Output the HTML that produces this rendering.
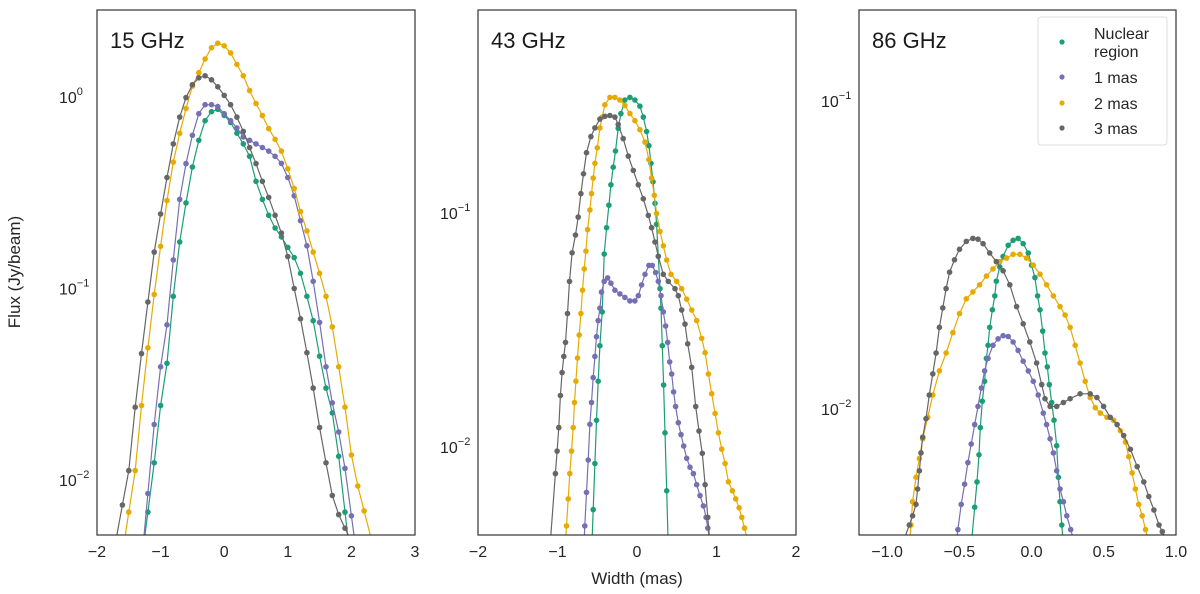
<!DOCTYPE html>
<html><head><meta charset="utf-8"><style>
body{margin:0;background:#fff}
svg{display:block;font-family:"Liberation Sans","DejaVu Sans",sans-serif}
</style></head><body>
<svg id="fig" width="1200" height="594" viewBox="0 0 1200 594" xmlns="http://www.w3.org/2000/svg">
<defs>
<clipPath id="c1"><rect x="97" y="10" width="318" height="525"/></clipPath>
<clipPath id="c2"><rect x="478" y="10" width="318" height="525"/></clipPath>
<clipPath id="c3"><rect x="859" y="10" width="317" height="525"/></clipPath>
</defs>
<text x="20" y="272" font-size="17" fill="#262626" text-anchor="middle" transform="rotate(-90 20 272)">Flux (Jy/beam)</text>
<text x="637" y="584" font-size="17" fill="#262626" text-anchor="middle">Width (mas)</text>
</svg>
<script>
// ---- Panel 1 (15 GHz) ----
const p1GreenX=[-1.2,-1.1,-1.0,-0.9,-0.8,-0.7,-0.6,-0.5,-0.4,-0.3,-0.2,-0.1,0.0,0.1,0.2,0.3,0.4,0.5,0.6,0.7,0.8,0.9,1.0,1.1,1.2,1.3,1.4,1.5,1.6,1.7,1.8,1.9];
const p1GreenY=[6.8e-3,0.0123,0.0245,0.0407,0.091,0.175,0.28,0.431,0.594,0.752,0.838,0.863,0.802,0.736,0.647,0.569,0.49,0.363,0.292,0.241,0.207,0.186,0.164,0.145,0.12,0.091,0.0679,0.0443,0.0302,0.0224,0.0133,6.8e-3];
const p1PurpleX=[-1.2,-1.1,-1.0,-0.9,-0.8,-0.7,-0.6,-0.5,-0.4,-0.3,-0.2,-0.1,0.0,0.1,0.2,0.3,0.4,0.5,0.6,0.7,0.8,0.9,1.0,1.1,1.2,1.3,1.4,1.5,1.6,1.7,1.8,1.9,2.0];
const p1PurpleY=[8.5e-3,0.0195,0.039,0.0646,0.141,0.292,0.449,0.631,0.818,0.912,0.912,0.891,0.818,0.752,0.69,0.619,0.594,0.569,0.545,0.522,0.49,0.45,0.38,0.305,0.226,0.167,0.109,0.0665,0.039,0.0253,0.0178,0.0115,6.5e-3];
const p1OrangeX=[-1.5,-1.4,-1.3,-1.2,-1.1,-1.0,-0.9,-0.8,-0.7,-0.6,-0.5,-0.4,-0.3,-0.2,-0.1,0.0,0.1,0.2,0.3,0.4,0.5,0.6,0.7,0.8,0.9,1.0,1.1,1.2,1.3,1.4,1.5,1.6,1.7,1.8,1.9,2.0,2.1,2.2];
const p1OrangeY=[6.8e-3,0.0112,0.0245,0.049,0.093,0.166,0.288,0.457,0.646,0.871,1.14,1.34,1.58,1.81,1.91,1.85,1.70,1.48,1.29,1.08,0.925,0.80,0.684,0.601,0.522,0.422,0.333,0.252,0.20,0.155,0.120,0.091,0.063,0.039,0.024,0.0135,9.3e-3,6.9e-3];
const p1GrayX=[-1.6,-1.5,-1.4,-1.3,-1.2,-1.1,-1.0,-0.9,-0.8,-0.7,-0.6,-0.5,-0.4,-0.3,-0.2,-0.1,0.0,0.1,0.2,0.3,0.4,0.5,0.6,0.7,0.8,0.9,1.0,1.1,1.2,1.3,1.4,1.5,1.6,1.7,1.8,1.9];
const p1GrayY=[7.4e-3,0.0112,0.024,0.0457,0.085,0.155,0.245,0.38,0.569,0.785,0.993,1.16,1.26,1.29,1.23,1.13,1.02,0.912,0.785,0.661,0.545,0.449,0.363,0.299,0.241,0.195,0.147,0.10,0.0695,0.0462,0.0302,0.0188,0.0123,8.3e-3,6.6e-3,5.6e-3];
const p1XTicks=[-2,-1,0,1,2,3];
const p1YTicks=[0,-1,-2];
// ---- Panel 2 (43 GHz) ----
const p2GreenX=[-0.551,-0.53,-0.509,-0.488,-0.467,-0.438,-0.412,-0.383,-0.354,-0.328,-0.299,-0.27,-0.236,-0.202,-0.152,-0.089,-0.026,0.037,0.079,0.121,0.15,0.176,0.201,0.226,0.247,0.268,0.289,0.302,0.318,0.335,0.352,0.373];
const p2GreenY=[5.4e-3,8.5e-3,0.013,0.0191,0.0271,0.0378,0.0668,0.0865,0.108,0.132,0.157,0.184,0.23,0.266,0.304,0.312,0.304,0.286,0.257,0.223,0.194,0.163,0.136,0.11,0.0895,0.0653,0.0475,0.0392,0.0271,0.0184,0.0115,6.5e-3];
const p2PurpleX=[-0.656,-0.635,-0.614,-0.593,-0.572,-0.551,-0.53,-0.509,-0.488,-0.467,-0.446,-0.412,-0.37,-0.328,-0.278,-0.215,-0.152,-0.089,-0.026,0.016,0.058,0.1,0.15,0.192,0.234,0.268,0.302,0.331,0.36,0.386,0.411,0.436,0.461,0.486,0.52,0.554,0.587,0.625,0.667,0.709,0.751,0.793,0.835,0.869,0.89];
const p2PurpleY=[4.6e-3,6.4e-3,8.8e-3,0.0125,0.0155,0.0198,0.0244,0.0296,0.0347,0.0392,0.0459,0.051,0.0528,0.0501,0.0468,0.0451,0.0436,0.0421,0.0421,0.0443,0.0493,0.0547,0.0597,0.0597,0.0557,0.051,0.0443,0.0378,0.0329,0.028,0.0231,0.0205,0.0172,0.0149,0.0127,0.0113,0.0101,8.95e-3,8.2e-3,7.7e-3,6.9e-3,6.2e-3,5.6e-3,5.0e-3,4.5e-3];
const p2OrangeX=[-0.887,-0.866,-0.845,-0.824,-0.803,-0.786,-0.769,-0.748,-0.727,-0.706,-0.685,-0.664,-0.643,-0.622,-0.593,-0.572,-0.551,-0.53,-0.5,-0.467,-0.438,-0.404,-0.341,-0.278,-0.215,-0.152,-0.089,-0.026,0.037,0.1,0.15,0.184,0.218,0.247,0.289,0.331,0.373,0.428,0.499,0.562,0.625,0.688,0.751,0.814,0.856,0.898,0.94,0.982,1.024,1.066,1.108,1.15,1.2,1.242,1.284,1.318,1.352];
const p2OrangeY=[4.6e-3,6.0e-3,7.7e-3,9.6e-3,0.0121,0.0155,0.0191,0.024,0.0301,0.0372,0.0468,0.0577,0.0687,0.0849,0.103,0.121,0.141,0.163,0.19,0.231,0.257,0.29,0.312,0.312,0.304,0.288,0.266,0.248,0.227,0.201,0.169,0.141,0.119,0.0995,0.0834,0.0724,0.063,0.0547,0.051,0.0475,0.0428,0.0385,0.0347,0.0291,0.0253,0.0205,0.0169,0.0139,0.0115,9.8e-3,8.5e-3,7.1e-3,6.5e-3,6.0e-3,5.5e-3,5.0e-3,4.5e-3];
const p2GrayX=[-1.026,-1.005,-0.984,-0.963,-0.942,-0.921,-0.9,-0.874,-0.849,-0.816,-0.774,-0.74,-0.706,-0.673,-0.635,-0.58,-0.53,-0.467,-0.404,-0.341,-0.278,-0.236,-0.173,-0.11,-0.047,0.016,0.079,0.142,0.184,0.226,0.268,0.331,0.394,0.478,0.52,0.562,0.604,0.638,0.688,0.738,0.78,0.822,0.856,0.89];
const p2GrayY=[7.7e-3,9.6e-3,0.0121,0.0166,0.0208,0.0244,0.028,0.0372,0.051,0.0676,0.0805,0.096,0.121,0.147,0.181,0.212,0.231,0.252,0.259,0.261,0.257,0.239,0.208,0.175,0.152,0.132,0.115,0.0977,0.0865,0.0752,0.0653,0.0547,0.051,0.0475,0.0443,0.0385,0.0335,0.0276,0.0219,0.0149,0.0117,9.4e-3,6.9e-3,5.0e-3];
const p2XTicks=[-2,-1,0,1,2];
const p2YTicks=[-1,-2];
// ---- Panel 3 (86 GHz) ----
const p3GreenX=[-0.394,-0.378,-0.364,-0.355,-0.341,-0.325,-0.313,-0.302,-0.29,-0.271,-0.255,-0.244,-0.22,-0.197,-0.162,-0.128,-0.093,-0.058,-0.023,0.0,0.023,0.042,0.058,0.077,0.093,0.109,0.123,0.139,0.155,0.174,0.186,0.197,0.209];
const p3GreenY=[4.8e-3,5.8e-3,7.1e-3,8.7e-3,0.0106,0.0123,0.0146,0.0161,0.0184,0.021,0.0233,0.026,0.0289,0.0313,0.034,0.0353,0.0358,0.0344,0.0321,0.0293,0.0267,0.0233,0.021,0.0179,0.0152,0.0137,0.012,0.0105,9.2e-3,7.6e-3,6.0e-3,5.0e-3,4.2e-3];
const p3PurpleX=[-0.51,-0.487,-0.464,-0.441,-0.418,-0.394,-0.371,-0.348,-0.325,-0.302,-0.267,-0.232,-0.197,-0.162,-0.128,-0.093,-0.058,-0.023,0.012,0.046,0.081,0.104,0.128,0.151,0.174,0.197,0.22,0.244,0.271];
const p3PurpleY=[4.06e-3,4.9e-3,5.7e-3,6.7e-3,7.7e-3,8.9e-3,0.0102,0.0117,0.0133,0.0146,0.0161,0.0169,0.0173,0.0172,0.0165,0.0155,0.0143,0.0133,0.0123,0.0111,9.7e-3,8.9e-3,8.0e-3,7.2e-3,6.3e-3,5.5e-3,5.0e-3,4.5e-3,4.06e-3];
const p3OrangeX=[-0.835,-0.824,-0.8,-0.777,-0.754,-0.719,-0.684,-0.638,-0.592,-0.545,-0.499,-0.452,-0.406,-0.36,-0.313,-0.267,-0.22,-0.174,-0.128,-0.081,-0.035,0.012,0.058,0.104,0.151,0.197,0.232,0.267,0.302,0.336,0.371,0.406,0.441,0.476,0.522,0.568,0.615,0.65,0.673,0.696,0.719,0.742,0.766,0.789];
const p3OrangeY=[4.2e-3,5.0e-3,6.0e-3,6.9e-3,8.0e-3,9.4e-3,0.0111,0.0133,0.0152,0.0177,0.0204,0.0228,0.024,0.0253,0.027,0.0285,0.0301,0.0309,0.0318,0.0318,0.0309,0.0293,0.0274,0.0253,0.0233,0.0215,0.0202,0.0184,0.0161,0.0141,0.0123,0.0109,0.0101,9.7e-3,9.4e-3,9.2e-3,8.5e-3,7.8e-3,7.0e-3,6.2e-3,5.5e-3,4.9e-3,4.5e-3,4.06e-3];
const p3GrayX=[-0.847,-0.824,-0.8,-0.789,-0.777,-0.766,-0.754,-0.731,-0.708,-0.684,-0.661,-0.638,-0.615,-0.592,-0.568,-0.534,-0.499,-0.452,-0.406,-0.371,-0.336,-0.29,-0.244,-0.197,-0.151,-0.104,-0.058,-0.012,0.035,0.07,0.093,0.128,0.174,0.22,0.267,0.336,0.406,0.452,0.499,0.545,0.592,0.638,0.684,0.731,0.777,0.812,0.847,0.882,0.905];
const p3GrayY=[4.2e-3,4.5e-3,4.9e-3,5.5e-3,6.3e-3,7.2e-3,8.1e-3,9.3e-3,0.0111,0.013,0.0152,0.0184,0.0213,0.0246,0.0278,0.0305,0.033,0.035,0.0358,0.0356,0.0344,0.0321,0.0301,0.0281,0.0253,0.0215,0.0189,0.0165,0.0141,0.012,0.0108,0.0102,0.0102,0.0105,0.0108,0.0112,0.0112,0.0109,0.0102,9.4e-3,8.9e-3,8.2e-3,7.4e-3,6.5e-3,5.8e-3,5.2e-3,4.7e-3,4.2e-3,4.0e-3];
const p3XTicks=[-1.0,-0.5,0.0,0.5,1.0];
const p3YTicks=[-1,-2];
const legendLabels=[["Nuclear","region"],["1 mas"],["2 mas"],["3 mas"]];

const COLORS={green:'#1b9e77',purple:'#7570b3',orange:'#e6ab02',gray:'#666666'};
const NS='http://www.w3.org/2000/svg';
const svg=document.getElementById('fig');
function mk(tag,attrs,parent){const e=document.createElementNS(NS,tag);for(const k in attrs)e.setAttribute(k,attrs[k]);(parent||svg).appendChild(e);return e;}

function panel(cfg){
  const g=mk('g',{});
  
  
  const xs=v=>cfg.left+(v-cfg.xmin)/(cfg.xmax-cfg.xmin)*cfg.w;
  const ys=v=>cfg.y0-(Math.log10(v)-cfg.l0)*cfg.dec;
  const plot=mk('g',{'clip-path':'url(#'+cfg.clip+')'},g);
  cfg.series.forEach(s=>{
    const px=s.x.map(xs), py=s.y.map(ys);
    const n=px.length;
    // extend the fit line past the last points down to the lower frame (rendering only)
    function ext(ax,ay,bx,by){
      const dy=by-ay, dx=bx-ax;
      if(dy<=0.5) return null;
      const t=Math.min((560-by)/dy, 40/Math.max(Math.abs(dx),0.01));
      return [bx+dx*t, by+dy*t];
    }
    let d='';
    const e0=ext(px[1],py[1],px[0],py[0]);
    if(e0) d+='M'+e0[0].toFixed(1)+','+e0[1].toFixed(1)+'L';
    else d+='M';
    px.forEach((xv,i)=>{d+=(i?'L':'')+xv.toFixed(1)+','+py[i].toFixed(1);});
    const e1=ext(px[n-2],py[n-2],px[n-1],py[n-1]);
    if(e1) d+='L'+e1[0].toFixed(1)+','+e1[1].toFixed(1);
    const p=mk('path',{d:d,fill:'none',stroke:COLORS[s.c],'stroke-width':1.2},plot);
    
    
    px.forEach((xv,i)=>{
      const c=mk('circle',{cx:xv.toFixed(1),cy:py[i].toFixed(1),r:2.8,fill:COLORS[s.c]},plot);
      
      
    });
  });
  const fr=mk('rect',{x:cfg.left,y:10,width:cfg.w,height:525,fill:'none',stroke:'#333','stroke-width':1.2},g);
  
  
  cfg.xt.forEach(t=>{
    const tx=mk('text',{x:xs(t),y:557,'font-size':16,fill:'#262626','text-anchor':'middle'},g);
    tx.textContent=(t<0?'\u2212':'')+Math.abs(t).toFixed(cfg.xdec);
    
    
  });
  cfg.yt.forEach(t=>{
    const yy=cfg.y0-(t-cfg.l0)*cfg.dec;
    const tx=mk('text',{x:cfg.left-38,y:yy+6,'font-size':16,fill:'#262626'},g);
    
    
    tx.appendChild(document.createTextNode('10'));
    const sp=mk('tspan',{dy:-8,'font-size':11},tx);
    sp.textContent=(t<0?'\u2212':'')+Math.abs(t);
  });
  const ti=mk('text',{x:cfg.left+13,y:48,'font-size':22,fill:'#1a1a1a'},g);
  ti.textContent=cfg.title;
  
  
}

panel({name:'panel-15ghz',tag:'15ghz',clip:'c1',left:97,w:318,xmin:-2,xmax:3,y0:97,l0:0,dec:191.5,xt:p1XTicks,yt:p1YTicks,xdec:0,title:'15 GHz',
  series:[{c:'green',x:p1GreenX,y:p1GreenY},{c:'purple',x:p1PurpleX,y:p1PurpleY},{c:'orange',x:p1OrangeX,y:p1OrangeY},{c:'gray',x:p1GrayX,y:p1GrayY}]});
panel({name:'panel-43ghz',tag:'43ghz',clip:'c2',left:478,w:318,xmin:-2,xmax:2,y0:213,l0:-1,dec:234,xt:p2XTicks,yt:p2YTicks,xdec:0,title:'43 GHz',
  series:[{c:'green',x:p2GreenX,y:p2GreenY},{c:'purple',x:p2PurpleX,y:p2PurpleY},{c:'orange',x:p2OrangeX,y:p2OrangeY},{c:'gray',x:p2GrayX,y:p2GrayY}]});
panel({name:'panel-86ghz',tag:'86ghz',clip:'c3',left:859,w:317,xmin:-1.195,xmax:1.0,y0:101,l0:-1,dec:308,xt:p3XTicks,yt:p3YTicks,xdec:1,title:'86 GHz',
  series:[{c:'green',x:p3GreenX,y:p3GreenY},{c:'purple',x:p3PurpleX,y:p3PurpleY},{c:'orange',x:p3OrangeX,y:p3OrangeY},{c:'gray',x:p3GrayX,y:p3GrayY}]});

// legend
const lg=mk('g',{});


mk('rect',{x:1038,y:17,width:129,height:128,rx:3,fill:'#fff',stroke:'#ddd','stroke-width':1},lg);
const legendColors=['green','purple','orange','gray'];
const legendRows=[42,77,103,128];
legendLabels.forEach((lines,i)=>{
  const e=mk('g',{},lg);
  
  
  mk('circle',{cx:1062,cy:legendRows[i],r:2.6,fill:COLORS[legendColors[i]]},e);
  lines.forEach((ln,j)=>{
    const t=mk('text',{x:1094,y:(lines.length>1?legendRows[i]-3+j*18:legendRows[i]+6),'font-size':16,fill:'#262626'},e);
    t.textContent=ln;
  });
});
</script>
</body></html>
